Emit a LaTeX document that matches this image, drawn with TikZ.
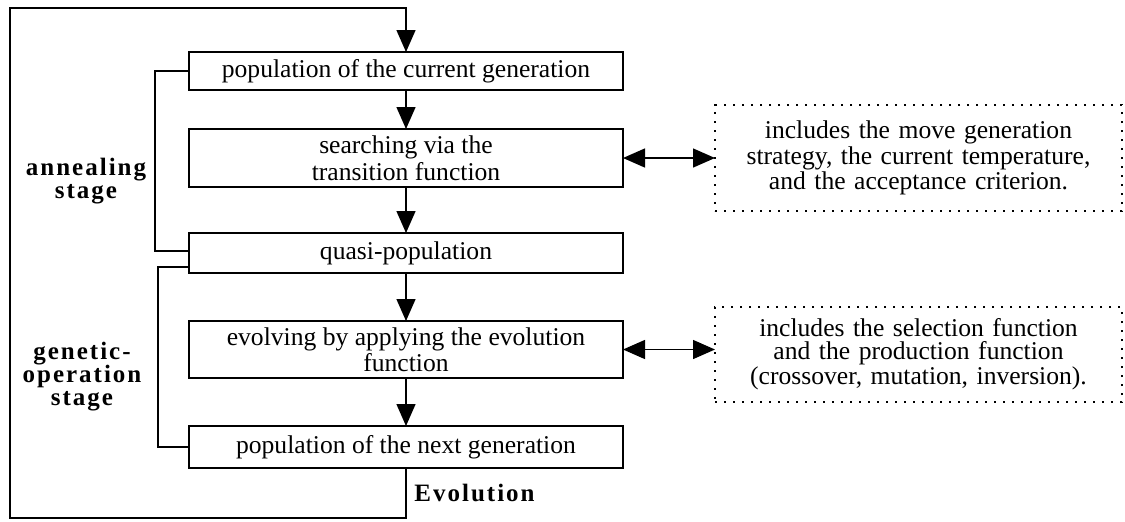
\documentclass[tikz,border=0pt]{standalone}
\usepackage{fontspec}
\setmainfont{Liberation Serif}
\newfontfamily\stagefont[LetterSpace=8]{Liberation Serif}
\usetikzlibrary{arrows.meta, positioning, calc}
\tikzset{
  blkstep/.style  = {draw, line width=1.1pt, minimum width=217pt,
                     inner sep=1pt, outer sep=0pt, align=center,
                     font=\fontsize{12.8pt}{10.5pt}\selectfont},
  blknote/.style  = {draw, line width=0.8pt, dash pattern=on 1.2pt off 3.3pt,
                     minimum width=203.5pt, text width=195pt, align=center,
                     inner sep=2pt, outer sep=0pt,
                     font=\fontsize{12.8pt}{11.5pt}\selectfont},
  flow/.style     = {-{Triangle[length=11pt,width=9.5pt]}, line width=0.7pt},
  flowboth/.style = {{Triangle[length=11pt,width=9.5pt]}-{Triangle[length=11pt,width=9.5pt]},
                     line width=0.7pt},
  link/.style     = {line width=0.7pt},
  stagelbl/.style = {font=\stagefont\bfseries\fontsize{12.5pt}{11.5pt}\selectfont,
                     align=center, inner sep=1pt},
}

\begin{document}
\begin{tikzpicture}
    \useasboundingbox (0,0) rectangle (562.5pt,-260.5pt);
    % main column : one generation, top to bottom
    \node[blkstep, minimum height=19pt] (curgen) at (203pt,-35.5pt) {population of the current generation};
    \node[blkstep, minimum height=29pt, font=\fontsize{12.8pt}{13.5pt}\selectfont,
          below=19.5pt of curgen]                      (search)  {searching via the\\transition function};
    \node[blkstep, minimum height=20pt, below=23pt of search]   (quasi)   {quasi-population};
    \node[blkstep, minimum height=28.5pt, below=24pt of quasi]  (evolve)  {evolving by applying the evolution\\function};
    \node[blkstep, minimum height=21pt, below=24pt of evolve]   (nextgen) {population of the next generation};
    % side notes
    \node[blknote, minimum height=53pt, right=46pt of search]   (movenote) {includes the move generation\\strategy, the current temperature,\\and the acceptance criterion.};
    \node[blknote, minimum height=47.5pt, right=46pt of evolve, yshift=-2.5pt] (selnote) {includes the selection function\\and the production function\\(crossover, mutation, inversion).};
    % stage labels
    \node[stagelbl] (annlbl) at (43pt,-90.5pt)  {annealing\\stage};
    \node[stagelbl] (genlbl) at (41pt,-188.5pt) {genetic-\\operation\\stage};

    \draw[flow] (curgen) -- (search);
    \draw[flow] (search) -- (quasi);
    \draw[flow] (quasi) -- (evolve);
    \draw[flow] (evolve) -- (nextgen);
    \draw[flowboth] (search) -- (movenote);
    \draw[flowboth] (evolve.east) -- (evolve.east -| selnote.west);

    % stage brackets
    \draw[link] (curgen.west) -- ++(-17pt,0) |- ([yshift=1pt]quasi.west);
    \draw[link] ([yshift=-7pt]quasi.west) -- ++(-15.5pt,0) |- (nextgen.west);

    % evolution loop
    \coordinate (loopcorner) at (5pt,-4pt);
    \coordinate (evo) at (nextgen.south |- 0,-259pt);
    \draw[flow] (nextgen.south) -- (evo) -| (loopcorner) -| (curgen.north);
    \node[stagelbl, anchor=west, xshift=3pt] (evolbl) at ($(nextgen.south)!0.5!(evo)$) {Evolution};
\end{tikzpicture}
\end{document}
